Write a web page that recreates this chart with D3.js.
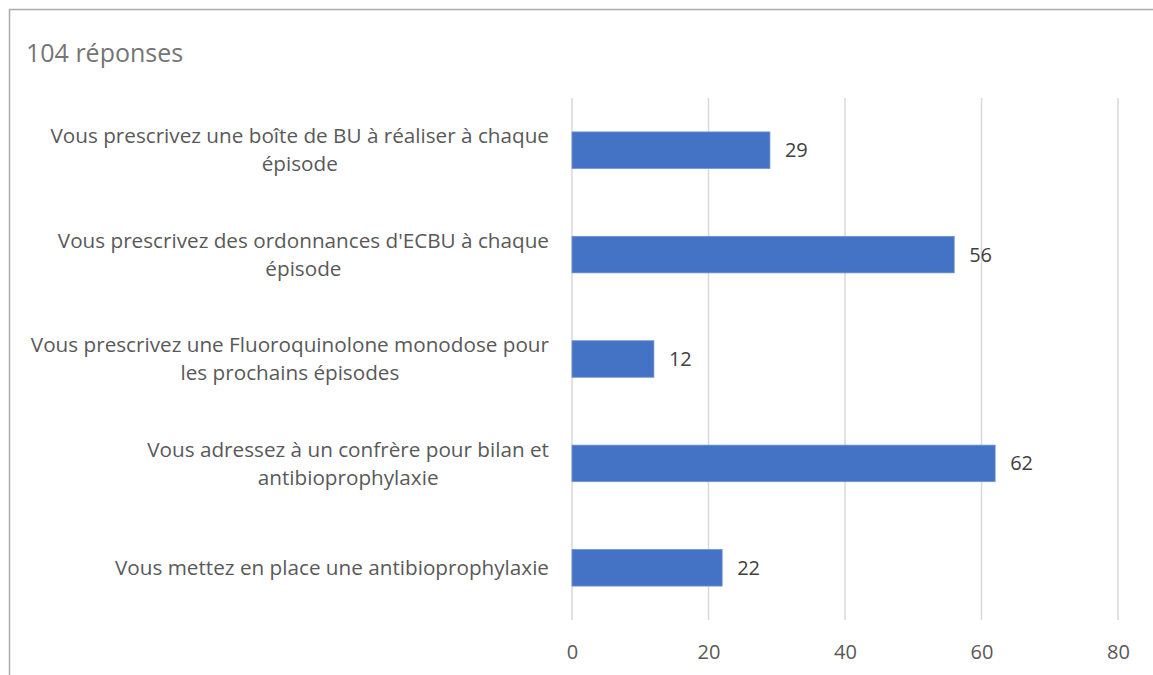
<!DOCTYPE html>
<html>
<head>
<meta charset="utf-8">
<script src="https://cdn.jsdelivr.net/npm/d3@7/dist/d3.min.js"></script>
<style>
  html, body { margin: 0; padding: 0; background: #fff; }
  svg { display: block; }
</style>
</head>
<body>
<svg id="chart" width="1153" height="675"></svg>
<script>
// Survey answers (104 respondents)
const categories = [
  ["Vous prescrivez une boîte de BU à réaliser à chaque", "épisode"],
  ["Vous prescrivez des ordonnances d'ECBU à chaque", "épisode"],
  ["Vous prescrivez une Fluoroquinolone monodose pour", "les prochains épisodes"],
  ["Vous adressez à un confrère pour bilan et", "antibioprophylaxie"],
  ["Vous mettez en place une antibioprophylaxie"]
];
const values = [29, 56, 12, 62, 22];
const xTicks = [0, 20, 40, 60, 80];
const title = "104 réponses";

const W = 1153, H = 675;
const FONT = "'Open Sans', 'Noto Sans', sans-serif";
const plot = { left: 572, right: 1118, top: 98, bottom: 620 };

const svg = d3.select("#chart");

// Frame lines (top and left)
svg.append("path")
  .attr("d", `M9.5,${H} V9.5 H${W}`)
  .attr("fill", "none")
  .attr("stroke", "#ababab")
  .attr("stroke-width", 1.5);

svg.append("text")
  .attr("x", 26).attr("y", 62)
  .attr("font-family", FONT)
  .attr("font-size", 25)
  .attr("fill", "#757575")
  .text(title);

const x = d3.scaleLinear().domain([0, 80]).range([plot.left, plot.right]);
const y = d3.scaleBand()
  .domain(d3.range(categories.length))
  .range([plot.top, plot.bottom])
  .paddingInner(0.65)
  .paddingOuter(0.325);

// Vertical gridlines
svg.append("g")
  .selectAll("line")
  .data(xTicks)
  .join("line")
  .attr("x1", d => x(d)).attr("x2", d => x(d))
  .attr("y1", plot.top).attr("y2", plot.bottom)
  .attr("stroke", "#d9d9d9")
  .attr("stroke-width", 1.5);

// Tick labels under the plot
const xAxis = d3.axisBottom(x).tickValues(xTicks).tickSize(0).tickPadding(0);
const gx = svg.append("g")
  .attr("transform", `translate(0,${plot.bottom})`)
  .call(xAxis);
gx.select(".domain").remove();
gx.selectAll("text")
  .attr("y", 39)
  .attr("dy", 0)
  .attr("font-family", FONT)
  .attr("font-size", 20)
  .attr("fill", "#595959");

// Bars
svg.append("g")
  .selectAll("rect")
  .data(values)
  .join("rect")
  .attr("x", x(0))
  .attr("y", (d, i) => y(i))
  .attr("width", d => x(d) - x(0))
  .attr("height", y.bandwidth())
  .attr("fill", "#4472c4")
  .attr("stroke", "#6f93d3")
  .attr("stroke-width", 0.8);

// Value labels
svg.append("g")
  .selectAll("text")
  .data(values)
  .join("text")
  .attr("x", d => x(d) + 15)
  .attr("y", (d, i) => y(i) + y.bandwidth() / 2)
  .attr("dy", "0.35em")
  .attr("font-family", FONT)
  .attr("font-size", 20)
  .attr("fill", "#404040")
  .text(d => d);

// Category labels: wrapped lines centred within a block right-aligned to the axis
const labelRight = 549;
const lineH = 28;
const gl = svg.append("g")
  .attr("font-family", FONT)
  .attr("font-size", 20.7)
  .attr("fill", "#595959");
categories.forEach((lines, i) => {
  const cy = y(i) + y.bandwidth() / 2;
  const g = gl.append("g");
  const texts = g.selectAll("text")
    .data(lines)
    .join("text")
    .attr("text-anchor", "middle")
    .attr("y", (d, k) => cy + (k - (lines.length - 1) / 2) * lineH)
    .attr("dy", "0.35em")
    .text(d => d);
  const maxW = d3.max(texts.nodes(), n => n.getComputedTextLength());
  texts.attr("x", labelRight - maxW / 2);
});
</script>
</body>
</html>
